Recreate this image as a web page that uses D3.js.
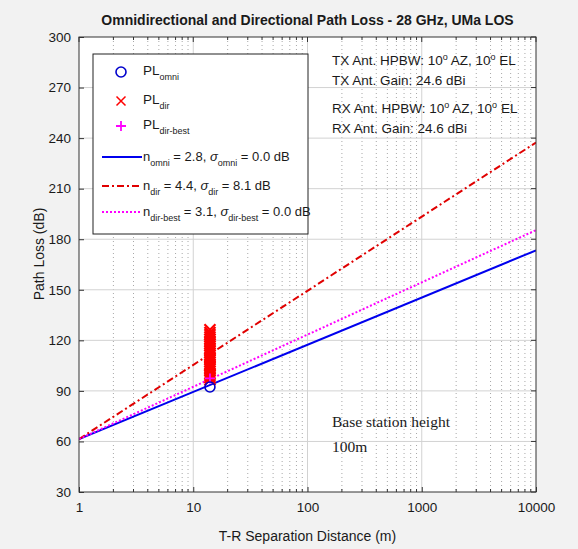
<!DOCTYPE html>
<html>
<head>
<meta charset="utf-8">
<script src="https://cdn.jsdelivr.net/npm/d3@7"></script>
<style>
  body { margin: 0; background: #f2f2f2; }
  text { font-family: "Liberation Sans", Arial, sans-serif; fill: #1a1a1a; }
</style>
</head>
<body>
<svg id="chart" width="578" height="549"></svg>
<script>
// fitted lines, read at the two ends of the x range
var fitDist = [1, 10000];
var fitOmni = [61.4, 173.4];
var fitDir = [61.4, 237.4];
var fitBest = [61.4, 185.4];

// measured points
var omniDist = [14];
var omniPL = [92.3];
var dirDist = 14;
var dirPL = [96.6, 97.9, 99.2, 100.3, 101.8, 103.1, 104.7, 105.6, 107.2, 108.6,
  109.7, 111.3, 112.5, 113.8, 115.2, 116.6, 117.9, 119.3, 120.7, 122.0,
  123.4, 124.7, 126.3];
var bestDist = [14];
var bestPL = [97.4];

var xTicks = [1, 10, 100, 1000, 10000];
var yTicks = [30, 60, 90, 120, 150, 180, 210, 240, 270, 300];

var svg = d3.select("#chart");
var plotL = 79, plotR = 536, plotT = 37, plotB = 492;

var x = d3.scaleLog().domain([1, 10000]).range([plotL, plotR]);
var y = d3.scaleLinear().domain([30, 300]).range([plotB, plotT]);

svg.append("rect")
  .attr("x", plotL).attr("y", plotT)
  .attr("width", plotR - plotL).attr("height", plotB - plotT)
  .attr("fill", "#fff");

// minor x grid
var minorX = [];
[1, 10, 100, 1000].forEach(function (dec) {
  for (var k = 2; k <= 9; k++) { minorX.push(dec * k); }
});

svg.append("g").selectAll("line")
  .data(minorX)
  .enter().append("line")
  .attr("x1", function (d) { return x(d); })
  .attr("x2", function (d) { return x(d); })
  .attr("y1", plotT).attr("y2", plotB)
  .attr("stroke", "#a8a8a8")
  .attr("stroke-dasharray", "1,3");

// major grid
svg.append("g").selectAll("line")
  .data(xTicks.slice(1, -1))
  .enter().append("line")
  .attr("x1", function (d) { return x(d); })
  .attr("x2", function (d) { return x(d); })
  .attr("y1", plotT).attr("y2", plotB)
  .attr("stroke", "#d2d2d2");

svg.append("g").selectAll("line")
  .data(yTicks.slice(1, -1))
  .enter().append("line")
  .attr("x1", plotL).attr("x2", plotR)
  .attr("y1", function (d) { return y(d); })
  .attr("y2", function (d) { return y(d); })
  .attr("stroke", "#d2d2d2");

// axes
var xAxis = svg.append("g")
  .attr("transform", "translate(0," + plotB + ")")
  .call(d3.axisBottom(x).tickValues(xTicks).tickFormat(d3.format("d")).tickSizeInner(-5).tickSizeOuter(0).tickPadding(10));
var yAxis = svg.append("g")
  .attr("transform", "translate(" + plotL + ",0)")
  .call(d3.axisLeft(y).tickValues(yTicks).tickSizeInner(-5).tickSizeOuter(0).tickPadding(8));

[xAxis, yAxis].forEach(function (g) {
  g.select(".domain").remove();
  g.selectAll("line").attr("stroke", "#333");
  g.selectAll("text").attr("font-size", 13.5).attr("fill", "#1a1a1a");
});

// minor ticks, top and bottom
svg.append("g").selectAll("line")
  .data(minorX)
  .enter().append("line")
  .attr("x1", function (d) { return x(d); })
  .attr("x2", function (d) { return x(d); })
  .attr("y1", plotB).attr("y2", plotB - 3)
  .attr("stroke", "#333");
svg.append("g").selectAll("line")
  .data(minorX.concat(xTicks))
  .enter().append("line")
  .attr("x1", function (d) { return x(d); })
  .attr("x2", function (d) { return x(d); })
  .attr("y1", plotT).attr("y2", function (d) { return xTicks.indexOf(d) >= 0 ? plotT + 5 : plotT + 3; })
  .attr("stroke", "#333");
svg.append("g").selectAll("line")
  .data(yTicks)
  .enter().append("line")
  .attr("x1", plotR).attr("x2", plotR - 5)
  .attr("y1", function (d) { return y(d); })
  .attr("y2", function (d) { return y(d); })
  .attr("stroke", "#333");

// fitted lines
var line = d3.line()
  .x(function (d) { return x(d[0]); })
  .y(function (d) { return y(d[1]); });

svg.append("defs").append("clipPath").attr("id", "plot")
  .append("rect").attr("x", plotL).attr("y", plotT)
  .attr("width", plotR - plotL).attr("height", plotB - plotT);

var fits = [
  { v: fitOmni, color: "#0000ee", dash: null },
  { v: fitDir, color: "#e00000", dash: "7,3,2,3" },
  { v: fitBest, color: "#ff00ff", dash: "2,2" }
];

svg.append("g").attr("clip-path", "url(#plot)")
  .selectAll("path")
  .data(fits)
  .enter().append("path")
  .attr("d", function (f) { return line(fitDist.map(function (d, i) { return [d, f.v[i]]; })); })
  .attr("fill", "none")
  .attr("stroke", function (f) { return f.color; })
  .attr("stroke-width", 2)
  .attr("stroke-dasharray", function (f) { return f.dash; });

// markers
function xMark(g, cx, cy, s, color, w) {
  g.append("path")
    .attr("d", "M" + (cx - s) + "," + (cy - s) + "L" + (cx + s) + "," + (cy + s) +
      "M" + (cx - s) + "," + (cy + s) + "L" + (cx + s) + "," + (cy - s))
    .attr("stroke", color).attr("stroke-width", w || 1.5).attr("fill", "none");
}
function plusMark(g, cx, cy, s, color) {
  g.append("path")
    .attr("d", "M" + (cx - s) + "," + cy + "L" + (cx + s) + "," + cy +
      "M" + cx + "," + (cy - s) + "L" + cx + "," + (cy + s))
    .attr("stroke", color).attr("stroke-width", 1.8).attr("fill", "none");
}

var marks = svg.append("g");
dirPL.forEach(function (v) { xMark(marks, x(dirDist), y(v), 5.5, "#ff0000", 2.2); });
bestPL.forEach(function (v, i) { plusMark(marks, x(bestDist[i]), y(v), 5, "#ff00ff"); });
omniPL.forEach(function (v, i) {
  marks.append("circle")
    .attr("cx", x(omniDist[i])).attr("cy", y(v)).attr("r", 5)
    .attr("fill", "none").attr("stroke", "#0000cc").attr("stroke-width", 1.6);
});

// frame
svg.append("rect")
  .attr("x", plotL).attr("y", plotT)
  .attr("width", plotR - plotL).attr("height", plotB - plotT)
  .attr("fill", "none").attr("stroke", "#333");

// rich text: parts are [text, "sub" | "sup" | null, italic]
function rich(g, px, py, parts, size) {
  var t = g.append("text").attr("x", px).attr("y", py).attr("font-size", size);
  var shift = 0;
  parts.forEach(function (p) {
    var want = p[1] === "sub" ? 5 : p[1] === "sup" ? -5 : 0;
    t.append("tspan")
      .attr("dy", want - shift)
      .attr("font-size", p[1] ? 9 : size)
      .attr("font-style", p[2] ? "italic" : null)
      .text(p[0]);
    shift = want;
  });
  return t;
}

// legend
var leg = svg.append("g");
leg.append("rect")
  .attr("x", 93).attr("y", 54).attr("width", 215).attr("height", 180)
  .attr("fill", "#fff").attr("stroke", "#222");

leg.append("circle").attr("cx", 121).attr("cy", 72).attr("r", 5)
  .attr("fill", "none").attr("stroke", "#0000cc").attr("stroke-width", 1.6);
xMark(leg, 121, 101, 4.5, "#ff0000");
plusMark(leg, 121, 126, 5, "#ff00ff");

rich(leg, 143, 75, [["PL"], ["omni", "sub"]], 13.5);
rich(leg, 143, 104, [["PL"], ["dir", "sub"]], 13.5);
rich(leg, 143, 129, [["PL"], ["dir-best", "sub"]], 13.5);

var legRows = [
  { y: 157, f: fits[0], parts: [["n"], ["omni", "sub"], [" = 2.8, "], ["σ", null, true], ["omni", "sub"], [" = 0.0 dB"]] },
  { y: 186, f: fits[1], parts: [["n"], ["dir", "sub"], [" = 4.4, "], ["σ", null, true], ["dir", "sub"], [" = 8.1 dB"]] },
  { y: 212, f: fits[2], parts: [["n"], ["dir-best", "sub"], [" = 3.1, "], ["σ", null, true], ["dir-best", "sub"], [" = 0.0 dB"]] }
];
legRows.forEach(function (r) {
  leg.append("line")
    .attr("x1", 102).attr("x2", 142).attr("y1", r.y).attr("y2", r.y)
    .attr("stroke", r.f.color).attr("stroke-width", 2)
    .attr("stroke-dasharray", r.f.dash);
  rich(leg, 143, r.y + 4, r.parts, 13);
});

// antenna notes
var notes = svg.append("g");
rich(notes, 332, 65, [["TX Ant. HPBW: 10"], ["o", "sup"], [" AZ, 10"], ["o", "sup"], [" EL"]], 13.5);
rich(notes, 332, 85, [["TX Ant. Gain: 24.6 dBi"]], 13.5);
rich(notes, 332, 113, [["RX Ant. HPBW: 10"], ["o", "sup"], [" AZ, 10"], ["o", "sup"], [" EL"]], 13.5);
rich(notes, 332, 133, [["RX Ant. Gain: 24.6 dBi"]], 13.5);

svg.append("text").attr("x", 332).attr("y", 427)
  .style("font-family", "'Liberation Serif', 'Times New Roman', serif").attr("font-size", 15.5)
  .text("Base station height");
svg.append("text").attr("x", 332).attr("y", 452)
  .style("font-family", "'Liberation Serif', 'Times New Roman', serif").attr("font-size", 15.5)
  .text("100m");

// titles
svg.append("text").attr("x", (plotL + plotR) / 2).attr("y", 25)
  .attr("text-anchor", "middle").attr("font-size", 14).attr("font-weight", "bold")
  .text("Omnidirectional and Directional Path Loss - 28 GHz, UMa LOS");
svg.append("text").attr("x", (plotL + plotR) / 2).attr("y", 541)
  .attr("text-anchor", "middle").attr("font-size", 14)
  .text("T-R Separation Distance (m)");
svg.append("text")
  .attr("transform", "translate(44,254) rotate(-90)")
  .attr("text-anchor", "middle").attr("font-size", 14)
  .text("Path Loss (dB)");
</script>
</body>
</html>
